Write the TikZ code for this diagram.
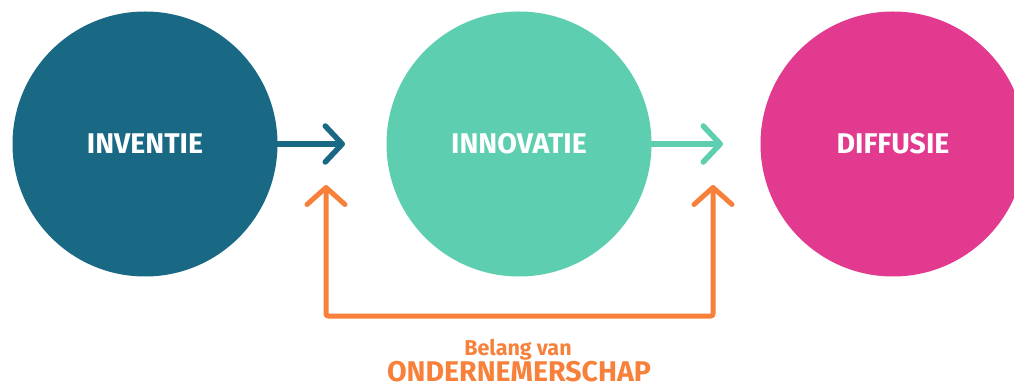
\documentclass[tikz,border=0pt]{standalone}
\usepackage{fontspec}
\setmainfont{Fira Sans}
\usetikzlibrary{arrows.meta}
\definecolor{invcol}{HTML}{196985}
\definecolor{innocol}{HTML}{5DCFB0}
\definecolor{difcol}{HTML}{E13A8F}
\definecolor{orangecol}{HTML}{F7813A}
\tikzset{
  blob/.style={circle, minimum size=265pt, inner sep=0pt, draw=none, text=white,
    font=\bfseries\fontsize{28.5}{28.5}\selectfont},
  conn/.style={line width=5.5pt, line cap=round, line join=round,
    -{Straight Barb[length=17pt,width=36pt,line cap=round,line join=round]}},
  oconn/.style={orangecol, line width=5pt, line cap=round, line join=round,
    {Straight Barb[length=17pt,width=38pt,line cap=round,line join=round]}-{Straight Barb[length=17pt,width=38pt,line cap=round,line join=round]}},
  otext/.style={text=orangecol, inner sep=0pt, anchor=base}
}
\begin{document}
\begin{tikzpicture}[x=1pt,y=-1pt]
\useasboundingbox (0,0) rectangle (1014,387);
\clip (0,0) rectangle (1014,387);
\fill[white] (0,0) rectangle (1014,387);
\node[blob, fill=invcol] (inv) at (145,144) {\raisebox{-3pt}{INVENTIE}};
\node[blob, fill=innocol] (inno) at (519,144) {\raisebox{-3pt}{INNOVATIE}};
\node[blob, fill=difcol] (dif) at (893,144) {\raisebox{-3pt}{DIFFUSIE}};
\coordinate (t1) at (345,144);
\coordinate (t2) at (723,144);
\draw[conn, invcol] (inv.east) -- (t1);
\draw[conn, innocol] (inno.east) -- (t2);
\coordinate (u1) at (326,185);
\coordinate (u2) at (713,185);
\coordinate (b1) at (326,316);
\coordinate (b2) at (713,316);
\draw[oconn, rounded corners=2pt] (u1) -- (b1) -- (b2) -- (u2);
\node[otext, font=\bfseries\fontsize{21.5}{21.5}\selectfont] (bel) at (518,355) {Belang van};
\node[otext, font=\bfseries\fontsize{28.5}{28.5}\selectfont] (ond) at (519,381) {ONDERNEMERSCHAP};
\end{tikzpicture}
\end{document}
